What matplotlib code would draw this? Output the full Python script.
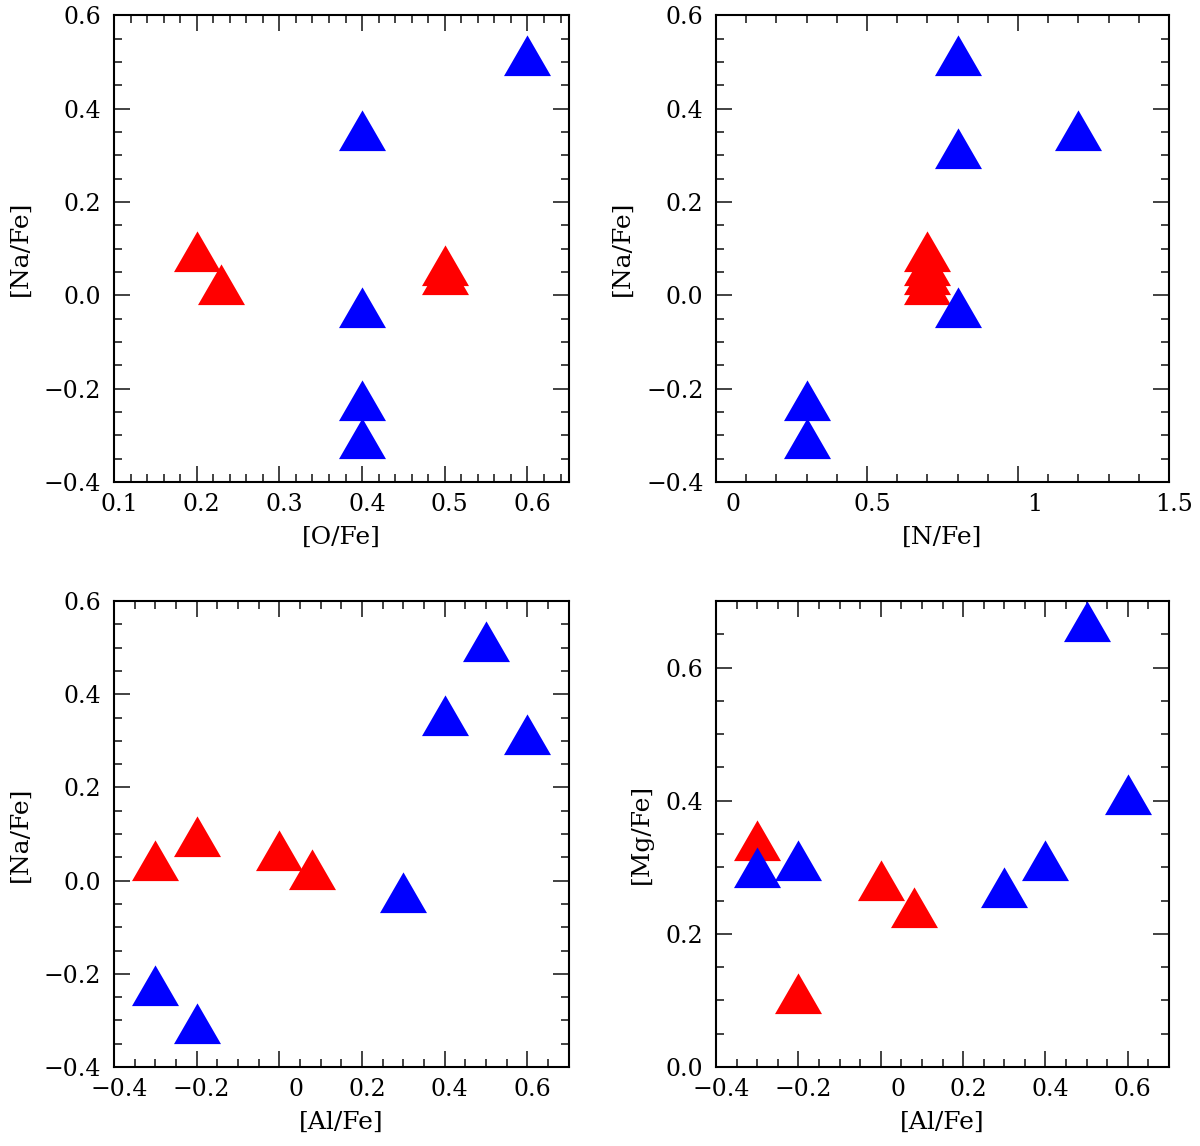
import numpy as np
import matplotlib
matplotlib.use('Agg')
import matplotlib.pyplot as plt
from matplotlib.ticker import MultipleLocator
from matplotlib.transforms import ScaledTranslation

# blue stars
na_b = [0.50, 0.34, 0.30, -0.04, -0.24, -0.32]
o_b  = [0.60, 0.40, np.nan, 0.40, 0.40, 0.40]
n_b  = [0.80, 1.20, 0.80, 0.80, 0.30, 0.30]
al_b = [0.50, 0.40, 0.60, 0.30, -0.30, -0.20]
mg_b = [0.66, 0.30, 0.40, 0.26, 0.29, 0.30]

# red stars
na_r = [0.08, 0.01, 0.05, 0.03]
o_r  = [0.20, 0.23, 0.50, 0.50]
n_r  = [0.70, 0.70, 0.70, 0.70]
al_r = [-0.20, 0.08, 0.00, -0.30]
mg_r = [0.10, 0.23, 0.27, 0.33]

plt.rcParams['font.family'] = 'DejaVu Serif'
plt.rcParams['font.size'] = 16

# triangle centred on its centroid
tri = [(0, 27.1), (-23.5, -13.6), (23.5, -13.6)]
ms = 2 * 27.1 * 72 / 100.

fig = plt.figure(figsize=(12, 11.46), dpi=100)

def panel(rect, xr, yr, xb, yb, xlim, ylim, xmaj, xmin, ymaj, ymin, xlab, ylab):
    ax = fig.add_axes(rect)
    ax.plot(xr, yr, ls='none', marker=tri, ms=ms, mfc='#ff0000', mec='none')
    ax.plot(xb, yb, ls='none', marker=tri, ms=ms, mfc='#0000ff', mec='none')
    ax.set_xlim(xlim)
    ax.set_ylim(ylim)
    ax.xaxis.set_major_locator(MultipleLocator(xmaj))
    ax.xaxis.set_minor_locator(MultipleLocator(xmin))
    ax.yaxis.set_major_locator(MultipleLocator(ymaj))
    ax.yaxis.set_minor_locator(MultipleLocator(ymin))
    ax.tick_params(which='both', direction='in', top=True, right=True, width=1.2, color='#222222')
    ax.tick_params(which='major', length=11.5, labelsize=17)
    ax.tick_params(which='minor', length=5.8)
    ax.tick_params(axis='x', pad=8)
    ax.tick_params(axis='y', pad=9)
    for s in ax.spines.values():
        s.set_linewidth(1.5)
    ax.set_xlabel(xlab, fontsize=18, labelpad=7)
    ax.set_ylabel(ylab, fontsize=18, labelpad=9)
    return ax

def fix_labels(ax, fmt):
    ax.xaxis.set_major_formatter(plt.FuncFormatter(lambda v, p: fmt(v).replace('-', '\u2212')))
    ax.yaxis.set_major_formatter(plt.FuncFormatter(lambda v, p: ('%.1f' % v).replace('-', '\u2212')))

def shift_xlabels(ax):
    fig.canvas.draw()
    for t in ax.get_xticklabels():
        dx = 17 if len(t.get_text()) == 1 else 5
        t.set_transform(t.get_transform() + ScaledTranslation(dx / 100., 0, fig.dpi_scale_trans))

f1 = lambda v: '%.1f' % v
fg = lambda v: ('%g' % round(v, 3))

ax1 = panel([0.095, 0.5794, 0.379, 0.4071], o_r, na_r, o_b, na_b,
            (0.1, 0.65), (-0.4, 0.6), 0.1, 0.02, 0.2, 0.05, '[O/Fe]', '[Na/Fe]')
fix_labels(ax1, f1)

ax2 = panel([0.5967, 0.5794, 0.3775, 0.4071], n_r, na_r, n_b, na_b,
            (0.0, 1.5), (-0.4, 0.6), 0.5, 0.1, 0.2, 0.05, '[N/Fe]', '[Na/Fe]')
fix_labels(ax2, fg)

ax3 = panel([0.095, 0.0689, 0.379, 0.4066], al_r, na_r, al_b, na_b,
            (-0.4, 0.7), (-0.4, 0.6), 0.2, 0.05, 0.2, 0.05, '[Al/Fe]', '[Na/Fe]')
fix_labels(ax3, fg)

ax4 = panel([0.5967, 0.0689, 0.3775, 0.4066], al_r, mg_r, al_b, mg_b,
            (-0.4, 0.7), (0.0, 0.7), 0.2, 0.05, 0.2, 0.05, '[Al/Fe]', '[Mg/Fe]')
fix_labels(ax4, fg)

for ax in (ax1, ax2, ax3, ax4):
    shift_xlabels(ax)

fig.savefig('out.png', dpi=100)
